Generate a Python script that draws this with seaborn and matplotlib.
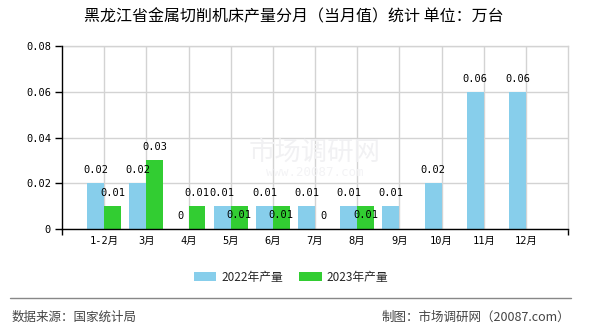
import matplotlib
matplotlib.use('Agg')
import matplotlib.pyplot as plt
import seaborn as sns
import pandas as pd
from matplotlib.lines import Line2D
from matplotlib.patches import Patch

# ---- data ----
months = ['1-2月', '3月', '4月', '5月', '6月', '7月', '8月', '9月', '10月', '11月', '12月']
y2022 = [0.02, 0.02, 0, 0.01, 0.01, 0.01, 0.01, 0.01, 0.02, 0.06, 0.06]
y2023 = [0.01, 0.03, 0.01, 0.01, 0.01, 0, 0.01, None, None, None, None]
series = ['2022年产量', '2023年产量']
colors = ['#87CEEB', '#32CD32']
yticks = [0, 0.02, 0.04, 0.06, 0.08]
ytick_labels = ['0', '0.02', '0.04', '0.06', '0.08']
title = '黑龙江省金属切削机床产量分月（当月值）统计 单位：万台'
source = '数据来源：国家统计局'
credit = '制图：市场调研网（20087.com）'

sns.set_theme(style='white')
plt.rcParams['font.family'] = ['Noto Sans CJK SC', 'DejaVu Sans']
MONO = ['DejaVu Sans Mono', 'Noto Sans CJK SC']

df = pd.DataFrame({
    '月份': months * 2,
    '产量': y2022 + y2023,
    '系列': [series[0]] * len(months) + [series[1]] * len(months),
})

W, H = 590, 330
fig = plt.figure(figsize=(W / 100, H / 100), dpi=100)
ax = fig.add_axes([62 / W, 1 - 229 / H, (568 - 62) / W, (229 - 46) / H])

sns.barplot(data=df, x='月份', y='产量', hue='系列', order=months, hue_order=series,
            palette=colors, ax=ax, width=0.8, saturation=1, legend=False,
            errorbar=None, linewidth=0, zorder=3)

# watermark (faint)
ax.text(0.5, 0.42, '市场调研网', transform=ax.transAxes, ha='center', va='center',
        fontsize=19, color='#f1f1f3', zorder=1)
ax.text(0.5, 0.31, 'www.20087.com', transform=ax.transAxes, ha='center', va='center',
        fontsize=9, color='#f3f3f5', zorder=1, family=MONO)

ax.set_xlim(-1, len(months))
ax.set_ylim(yticks[0], yticks[-1])
ax.set_yticks(yticks)
ax.set_yticklabels(ytick_labels)
ax.set_xlabel('')
ax.set_ylabel('')

ax.set_axisbelow(True)
ax.grid(True, color='#d3d3d3', lw=1, zorder=0)
for s in ['top', 'right']:
    ax.spines[s].set_color('#d3d3d3')
    ax.spines[s].set_linewidth(1)
for s in ['left', 'bottom']:
    ax.spines[s].set_color('black')
    ax.spines[s].set_linewidth(1)
    ax.spines[s].set_zorder(5)

ax.tick_params(axis='x', which='major', length=0, pad=5, labelsize=7.5, colors='black')
ax.set_xticks([-1, len(months)], minor=True)
ax.tick_params(axis='x', which='minor', length=4, width=1, color='black', direction='out', bottom=True)
ax.tick_params(axis='y', length=5, width=1, color='black', direction='out', left=True,
               pad=3, labelsize=7.5, labelcolor='black')
for lab in ax.get_xticklabels() + ax.get_yticklabels():
    lab.set_family(MONO)

# value labels
for si, cont in enumerate(ax.containers):
    for bar in cont:
        h = bar.get_height()
        if h != h:
            continue
        cx = bar.get_x() + bar.get_width() / 2
        idx = int(round(cx))
        inside = (si == 1 and y2022[idx] == y2023[idx] and h > 0)
        off = -6.5 if inside else 9.5
        ax.annotate(f'{h:g}', (cx, h), xytext=(0, off), textcoords='offset points',
                    ha='center', va='center', fontsize=7.5, family=MONO,
                    color='black', zorder=6)

# title
fig.text(294 / W, 1 - 17 / H, title, ha='center', va='center', fontsize=11.5, color='black')

# legend
handles = [Patch(facecolor=c, edgecolor='none', label=l) for c, l in zip(colors, series)]
fig.legend(handles=handles, loc='center', bbox_to_anchor=(291 / W, 1 - 277 / H), ncol=2,
           frameon=False, fontsize=8.5, handlelength=1.9, handleheight=0.75,
           handletextpad=0.4, columnspacing=1.4)

# footer
fig.add_artist(Line2D([10 / W, 571 / W], [1 - 298 / H] * 2, color='#888888', lw=1))
fig.text(12 / W, 1 - 317 / H, source, ha='left', va='center', fontsize=9, color='#444444')
fig.text(570 / W, 1 - 317 / H, credit, ha='right', va='center', fontsize=9, color='#444444')

fig.savefig('out.png', dpi=100)
